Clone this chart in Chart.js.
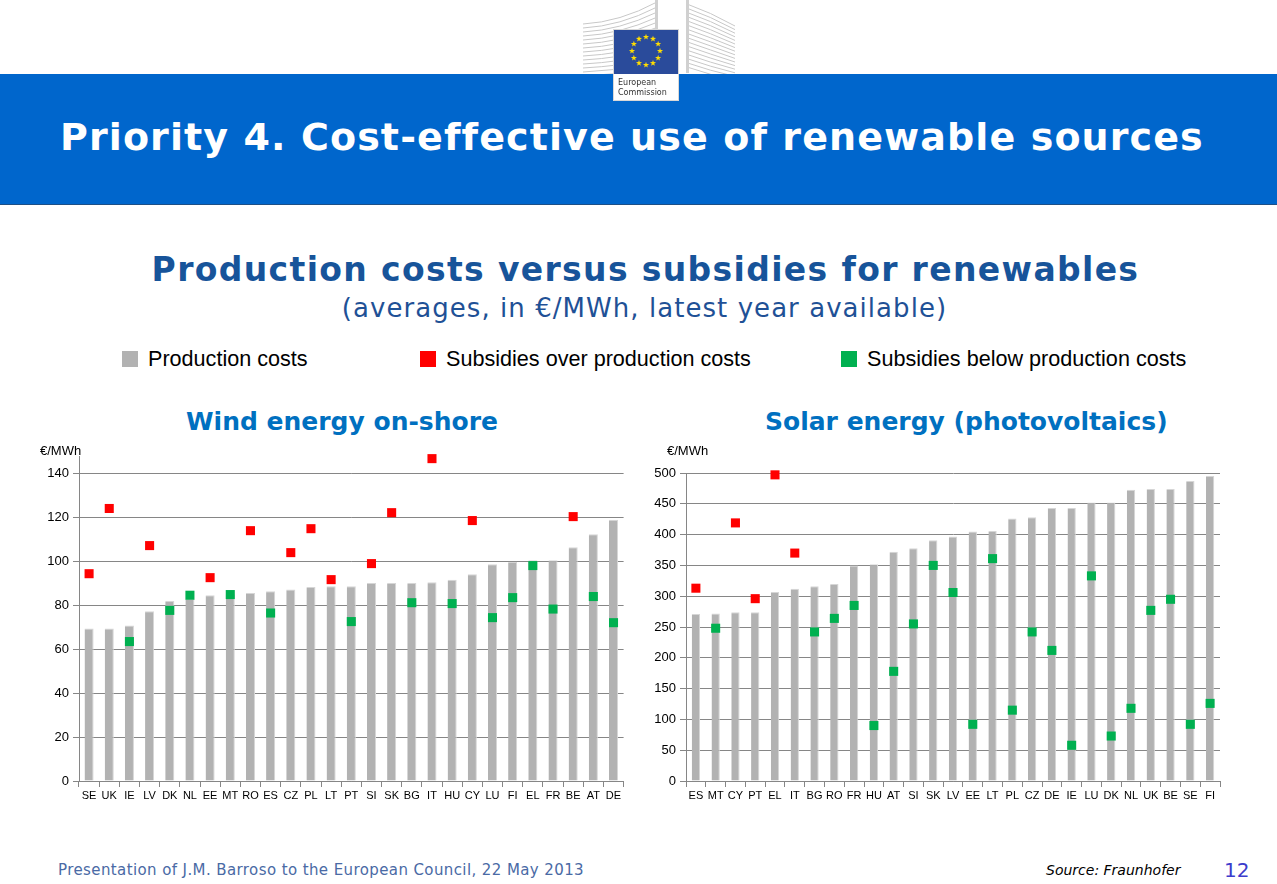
<!DOCTYPE html>
<html>
<head>
<meta charset="utf-8">
<script src="https://cdn.jsdelivr.net/npm/chart.js@4.4.0/dist/chart.umd.min.js"></script>
<style>
  body { margin: 0; width: 1277px; height: 884px; background: #fff; position: relative; overflow: hidden; font-family: "DejaVu Sans", Verdana, sans-serif; }
  .abs { position: absolute; white-space: nowrap; }
  #band { left: 0; top: 74px; width: 1277px; height: 130px; background: #0066cc; border-bottom: 1px solid #1d4f86; }
  #title { left: 60px; top: 114px; color: #fff; font-weight: bold; font-size: 38px; line-height: 46px; letter-spacing: 1.1px; }
  #sub1 { left: 0; width: 1291px; text-align: center; top: 250px; color: #17549a; font-weight: bold; font-size: 33px; line-height: 40px; letter-spacing: 1.35px; }
  #sub2 { left: 0; width: 1289px; text-align: center; top: 292px; color: #1f5196; font-size: 26px; line-height: 32px; letter-spacing: 1.05px; }
  .leg { top: 345px; font-family: "Liberation Sans", Arial, sans-serif; font-size: 21.6px; line-height: 28px; color: #000; }
  .sw { display: inline-block; width: 16px; height: 16px; vertical-align: -1px; margin-right: 10px; }
  .ctitle { top: 406px; color: #0070c0; font-weight: bold; font-size: 25px; line-height: 32px; text-align: center; }
  .unit { top: 443px; font-family: "Liberation Sans", Arial, sans-serif; font-size: 13px; color: #000; }
  #foot { left: 58px; top: 861px; color: #4a6aa5; font-size: 15px; letter-spacing: 0.4px; }
  #src { left: 1046px; top: 862px; font-style: italic; font-size: 14px; color: #000; }
  #page { left: 1224px; top: 858px; font-size: 20px; color: #3c3ccc; }
</style>
</head>
<body>
<canvas id="logo" class="abs" width="200" height="105" style="left:560px;top:0"></canvas>
<div id="band" class="abs"></div>
<canvas id="flag" class="abs" width="66" height="72" style="left:613px;top:29px"></canvas>
<div id="title" class="abs">Priority 4. Cost-effective use of renewable sources</div>
<div id="sub1" class="abs">Production costs versus subsidies for renewables</div>
<div id="sub2" class="abs">(averages, in €/MWh, latest year available)</div>
<div class="abs leg" style="left:122px"><span class="sw" style="background:#b2b2b2"></span>Production costs</div>
<div class="abs leg" style="left:420px"><span class="sw" style="background:#ff0000"></span>Subsidies over production costs</div>
<div class="abs leg" style="left:841px"><span class="sw" style="background:#00b050"></span>Subsidies below production costs</div>
<div class="abs ctitle" style="left:142px;width:400px">Wind energy on-shore</div>
<div class="abs ctitle" style="left:765px;width:400px">Solar energy (photovoltaics)</div>
<canvas id="wind" class="abs" style="left:20px;top:440px"></canvas>
<canvas id="solar" class="abs" style="left:640px;top:440px"></canvas>
<div class="abs unit" style="left:40px">€/MWh</div>
<div class="abs unit" style="left:667px">€/MWh</div>
<div id="foot" class="abs">Presentation of J.M. Barroso to the European Council, 22 May 2013</div>
<div id="src" class="abs">Source: Fraunhofer</div>
<div id="page" class="abs">12</div>
<script>
// Wind energy on-shore
const windCountries = ['SE','UK','IE','LV','DK','NL','EE','MT','RO','ES','CZ','PL','LT','PT','SI','SK','BG','IT','HU','CY','LU','FI','EL','FR','BE','AT','DE'];
const windCost  = [69.4,69.4,70.8,77.3,82.0,83.0,84.6,85.0,85.6,86.4,87.2,88.4,88.7,88.7,90.2,90.2,90.2,90.5,91.7,94.1,98.7,99.9,100.5,100.5,106.4,112.4,119.0];
const windOver  = [94.4,124.1,null,107.2,null,null,92.6,null,114.0,null,104.0,114.9,91.7,null,99.0,122.2,null,146.8,null,118.6,null,null,null,null,120.4,null,null];
const windUnder = [null,null,63.5,null,77.7,84.6,null,84.9,null,76.5,null,null,null,72.6,null,null,81.2,null,80.8,null,74.4,83.5,98.1,78.3,null,84.0,72.1];
const windTicks = [0,20,40,60,80,100,120,140];

// Solar energy (photovoltaics)
const solarCountries = ['ES','MT','CY','PT','EL','IT','BG','RO','FR','HU','AT','SI','SK','LV','EE','LT','PL','CZ','DE','IE','LU','DK','NL','UK','BE','SE','FI'];
const solarCost  = [271,272,274,274,307,312,316,320,350,352,372,378,391,397,405,406,426,428,443,443,452,452,473,474,474,487,495];
const solarOver  = [313,null,419,296,497,370,null,null,null,null,null,null,null,null,null,null,null,null,null,null,null,null,null,null,null,null,null];
const solarUnder = [null,248,null,null,null,null,242,264,285,90,178,255,350,306,92,361,115,242,212,58,333,73,118,277,295,92,126];
const solarTicks = [0,50,100,150,200,250,300,350,400,450,500];

function makeChart(id, w, h, labels, cost, over, under, ticks, max, yWidth, padTop, padRight, barPct) {
  const cv = document.getElementById(id);
  cv.width = w; cv.height = h;
  cv.style.width = w + 'px'; cv.style.height = h + 'px';
  const marker = (data, color) => ({
    type: 'line', data: data, showLine: false, order: 1,
    pointStyle: 'rect', pointRadius: 6.4, pointBorderWidth: 0,
    pointBackgroundColor: color, pointBorderColor: color, clip: false
  });
  return new Chart(cv, {
    data: {
      labels: labels,
      datasets: [
        { type: 'bar', data: cost, order: 2, backgroundColor: '#b2b2b2',
          borderColor: '#d6d6d6', borderWidth: { top: 1, right: 1, left: 0, bottom: 0 }, borderSkipped: 'bottom',
          barPercentage: barPct, categoryPercentage: 1 },
        marker(over, '#ff0000'),
        marker(under, '#00b050')
      ]
    },
    options: {
      responsive: false, animation: false,
      layout: { padding: { top: padTop, right: padRight, bottom: 4, left: 0 } },
      plugins: { legend: { display: false }, tooltip: { enabled: false } },
      scales: {
        x: {
          grid: { offset: true, drawOnChartArea: false, drawTicks: true, tickLength: 6, color: '#868686' },
          border: { color: '#868686' },
          ticks: { font: { family: 'Liberation Sans', size: 11 }, color: '#000', padding: 2, maxRotation: 0, autoSkip: false },
          afterFit: s => { s.height = 20; }
        },
        y: {
          min: 0, max: max,
          afterBuildTicks: s => { s.ticks = ticks.map(v => ({ value: v })); },
          grid: { color: '#868686', tickLength: 6 },
          border: { color: '#868686' },
          ticks: { font: { family: 'Liberation Sans', size: 13 }, color: '#000', padding: 4 },
          afterFit: s => { s.width = yWidth; }
        }
      }
    }
  });
}

makeChart('wind', 610, 365, windCountries, windCost, windOver, windUnder, windTicks, 148, 59, 16, 5, 0.45);
makeChart('solar', 590, 365, solarCountries, solarCost, solarOver, solarUnder, solarTicks, 500, 46, 33, 10, 0.42);

// European Commission logo
(function () {
  const c = document.getElementById('logo').getContext('2d');
  c.strokeStyle = '#c8c8c8'; c.lineWidth = 1;
  for (let i = 0; i < 14; i++) {
    const y = 22 + i * 4;
    c.beginPath(); c.moveTo(23, y + 2); c.quadraticCurveTo(60, y, 97 - i * 0.3, y - 20 + i * 1.2); c.stroke();
  }
  for (let i = 0; i < 16; i++) {
    const y = 4 + i * 4.2;
    c.beginPath(); c.moveTo(127, y); c.quadraticCurveTo(150, y + 8, 175, y + 22 - i * 0.6); c.stroke();
  }
  c.fillStyle = '#d0d0d0';
  c.fillRect(95, 0, 3, 73); c.fillRect(126, 0, 3, 73);
  const f = document.getElementById('flag').getContext('2d');
  f.fillStyle = '#fff'; f.fillRect(0, 0, 66, 72);
  f.strokeStyle = '#d8d8d8'; f.strokeRect(0.5, 0.5, 65, 71);
  f.fillStyle = '#2a4b9b'; f.fillRect(1, 1, 64, 44);
  f.fillStyle = '#ffdd00';
  for (let k = 0; k < 12; k++) {
    const a = k * Math.PI / 6;
    const cx = 33 + 14 * Math.cos(a), cy = 22 + 14 * Math.sin(a);
    f.beginPath();
    for (let j = 0; j < 10; j++) {
      const r = j % 2 ? 1.3 : 3.2, b = -Math.PI / 2 + j * Math.PI / 5;
      f.lineTo(cx + r * Math.cos(b), cy + r * Math.sin(b));
    }
    f.fill();
  }
  f.fillStyle = '#333'; f.font = '8px "DejaVu Sans"';
  f.fillText('European', 5, 56); f.fillText('Commission', 5, 66);
})();
</script>
</body>
</html>
